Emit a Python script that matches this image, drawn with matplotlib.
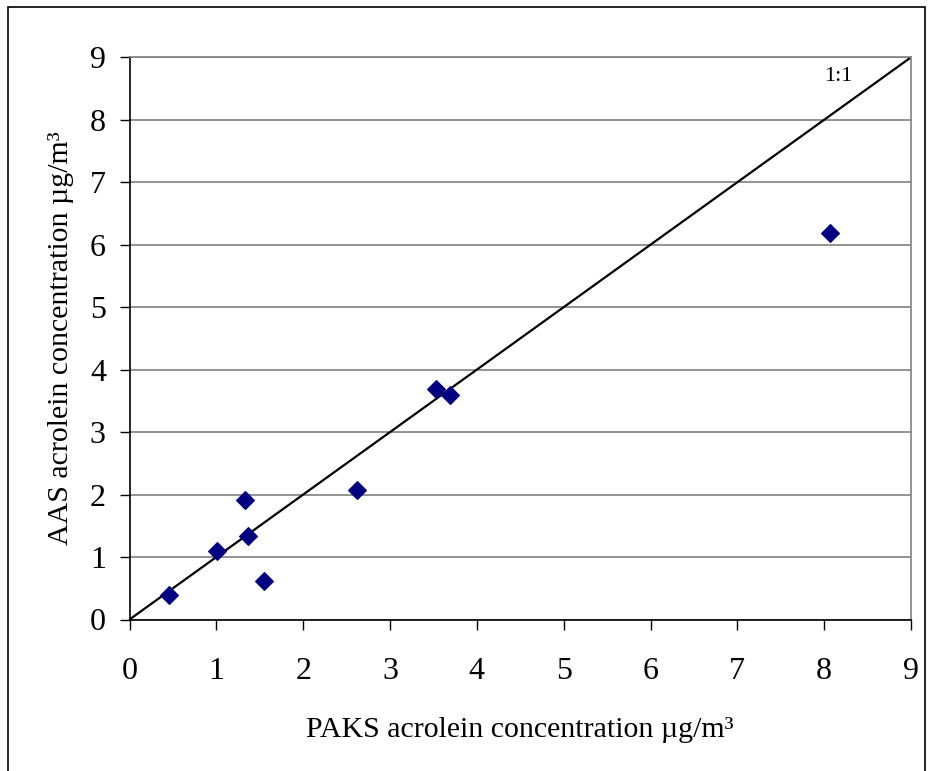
import matplotlib
matplotlib.use("Agg")
import matplotlib.pyplot as plt
from matplotlib.patches import Rectangle

# PAKS vs AAS acrolein measurements (µg/m³)
paks = [0.46, 1.01, 1.33, 1.36, 1.55, 2.62, 3.53, 3.69, 8.07]
aas = [0.39, 1.10, 1.92, 1.34, 0.61, 2.08, 3.69, 3.59, 6.18]
ticks = list(range(0, 10))

plt.rcParams['font.family'] = ['Liberation Serif', 'DejaVu Serif']

W, H = 932, 771
fig = plt.figure(figsize=(W / 100, H / 100), dpi=100)
ax = fig.add_axes([129.5 / W, 1 - 619.5 / H, (911 - 129.5) / W, (619.5 - 57.3) / H])

# outer frame around the whole chart
fig.patches.append(Rectangle((8 / W, -0.01), (925 - 8) / W, 1 - 7 / H + 0.01,
                             transform=fig.transFigure, fill=False,
                             edgecolor='black', linewidth=1.2))

ax.set_xlim(0, 9)
ax.set_ylim(0, 9)
ax.set_xticks(ticks)
ax.set_yticks(ticks)
ax.yaxis.grid(True, color='#808080', linewidth=1.2)
ax.set_axisbelow(True)

# 1:1 reference line
ax.plot([0, 9], [0, 9], color='black', linewidth=1.6, zorder=2)
ax.text(8.16, 8.70, '1:1', fontsize=16, ha='center', va='center')

ax.plot(paks, aas, linestyle='none', marker='D', markersize=9,
        markeredgewidth=0.8, color='#000080', zorder=3, clip_on=False)

for side in ('top', 'right'):
    ax.spines[side].set_color('#808080')
    ax.spines[side].set_linewidth(1.2)
for side in ('left', 'bottom'):
    ax.spines[side].set_color('black')
    ax.spines[side].set_linewidth(1.2)

ax.tick_params(axis='both', direction='out', length=7, width=1, labelsize=23, colors='black')
ax.tick_params(axis='x', pad=20)
ax.tick_params(axis='y', pad=10)

# axis titles placed in figure pixels
fig.text(520 / W, 1 - 737 / H, 'PAKS acrolein concentration µg/m³', fontsize=21.5,
         ha='center', va='baseline')
fig.text(68 / W, 1 - 338.5 / H, 'AAS acrolein concentration µg/m³', fontsize=21.5,
         ha='center', va='baseline', rotation=90, rotation_mode='anchor')

fig.savefig('out.png', dpi=100)
